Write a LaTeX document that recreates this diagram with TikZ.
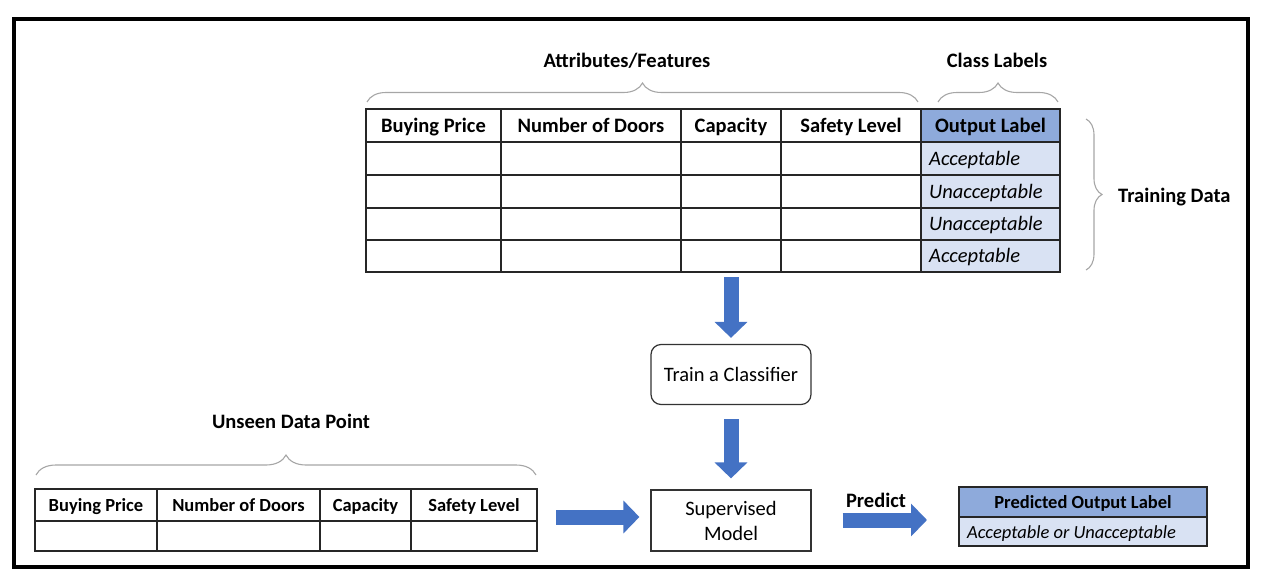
\documentclass[tikz,border=0pt]{standalone}
\usepackage{fontspec}
\setmainfont{Carlito}
\usetikzlibrary{arrows.meta,decorations.pathreplacing,fit,calc}
\definecolor{arrowblue}{HTML}{4472C4}
\definecolor{headblue}{HTML}{8EAADB}
\definecolor{lightblue}{HTML}{D9E2F3}
\definecolor{bracegray}{HTML}{A6A6A6}
\newcommand\tcell[7]{\node[cell,#1,minimum width={(#5-#3)*1pt},minimum height={(#6-#4)*1pt}] (#2) at (#3,#4) {#7};}
\begin{document}
\begin{tikzpicture}[x=1pt,y=-1pt,
  cell/.style={draw=black!85,line width=1.2pt,inner sep=0pt,outer sep=0pt,anchor=north west,text height=16pt,text depth=2.5pt},
  hbig/.style={font=\fontsize{20.5}{24}\selectfont\bfseries},
  hsmall/.style={font=\fontsize{18.5}{22}\selectfont\bfseries},
  itbig/.style={font=\fontsize{20.5}{24}\selectfont\itshape,anchor=west,inner sep=0pt,text height=16pt,text depth=2.5pt},
  itsmall/.style={font=\fontsize{18.5}{22}\selectfont\itshape,anchor=west,inner sep=0pt,text height=16pt,text depth=2.5pt},
  title/.style={font=\fontsize{20.5}{24}\selectfont\bfseries,anchor=base,inner sep=0pt},
  procbox/.style={draw=black!80,line width=1.2pt,minimum width=160pt,font=\fontsize{20.5}{25}\selectfont,align=center,inner sep=0pt},
  bracedec/.style={draw=bracegray,line width=1.1pt,decorate,decoration={brace,amplitude=#1}},
  blockarrow/.style={draw=arrowblue,line width=15pt,-{Triangle[width=32pt,length=16pt]}}
]
\useasboundingbox (0,0) rectangle (1267,586);
\draw[line width=4pt] (14,18.7) rectangle (1248,566.5);

% ---------- top table ----------
\tcell{hbig}{h1}{366}{109}{501}{142}{Buying Price}
\tcell{hbig}{h2}{501}{109}{681}{142}{Number of Doors}
\tcell{hbig}{h3}{681}{109}{781}{142}{Capacity}
\tcell{hbig}{h4}{781}{109}{921}{142}{Safety Level}
\tcell{hbig,fill=headblue}{h5}{921}{109}{1060}{142}{Output Label}
\foreach \r/\ya/\yb in {1/142/175,2/175/208,3/208/240,4/240/272}{
  \tcell{}{c1\r}{366}{\ya}{501}{\yb}{}
  \tcell{}{c2\r}{501}{\ya}{681}{\yb}{}
  \tcell{}{c3\r}{681}{\ya}{781}{\yb}{}
  \tcell{}{c4\r}{781}{\ya}{921}{\yb}{}
  \tcell{fill=lightblue}{c5\r}{921}{\ya}{1060}{\yb}{}
}
\node[itbig] (l1) at ([xshift=8pt]c51.west) {Acceptable};
\node[itbig] (l2) at ([xshift=8pt]c52.west) {Unacceptable};
\node[itbig] (l3) at ([xshift=8pt]c53.west) {Unacceptable};
\node[itbig] (l4) at ([xshift=8pt]c54.west) {Acceptable};
\node[fit=(h1)(c54),inner sep=0pt] (toptable) {};

% braces and titles (top)
\draw[bracedec=19pt] (367,102) -- (918,102);
\node[title] (attr) at (627,67) {Attributes/Features};
\draw[bracedec=19pt] (938,102) -- (1058,102);
\node[title] (cls) at (997,67) {Class Labels};
\draw[bracedec=16pt] (1086,119) -- (1086,270);
\node[title,anchor=base west] (train) at (1118,202) {Training Data};

% ---------- process boxes ----------
\node[procbox,rounded corners=10pt,minimum height=60pt] (clf) at (731,374.5) {Train a Classifier};
\node[procbox,minimum height=61pt] (sup) at (731,520.5) {Supervised\\Model};

\draw[blockarrow,shorten <=5pt,shorten >=6pt] (clf.north |- toptable.south) -- (clf.north);
\draw[blockarrow,shorten <=14pt,shorten >=11pt] (clf.south) -- (sup.north);

% ---------- bottom table ----------
\tcell{hsmall}{u1}{35}{489}{157}{521}{Buying Price}
\tcell{hsmall}{u2}{157}{489}{320}{521}{Number of Doors}
\tcell{hsmall}{u3}{320}{489}{411}{521}{Capacity}
\tcell{hsmall}{u4}{411}{489}{537}{521}{Safety Level}
\tcell{}{v1}{35}{521}{157}{551}{}
\tcell{}{v2}{157}{521}{320}{551}{}
\tcell{}{v3}{320}{521}{411}{551}{}
\tcell{}{v4}{411}{521}{537}{551}{}
\node[fit=(u1)(v4),inner sep=0pt] (unseen) {};
\draw[bracedec=20pt] (36,475) -- (536,475);
\node[title] (unt) at (291,428) {Unseen Data Point};

\coordinate (la) at (unseen.east |- 0,517);
\draw[blockarrow,shorten <=19pt,shorten >=11pt] (la) -- (sup.west |- la);

% ---------- predicted label ----------
\tcell{hsmall,fill=headblue}{p1}{959}{487}{1207}{517}{Predicted Output Label}
\tcell{fill=lightblue}{p2}{959}{517}{1207}{546}{}
\node[itsmall] (pl) at ([xshift=8pt]p2.west) {Acceptable or Unacceptable};

\coordinate (pa) at (sup.east |- 0,520);
\draw[blockarrow,shorten <=31pt,shorten >=32pt] (pa) -- (p1.west |- pa);
\node[title] (pred) at (876,507) {Predict};
\end{tikzpicture}
\end{document}
